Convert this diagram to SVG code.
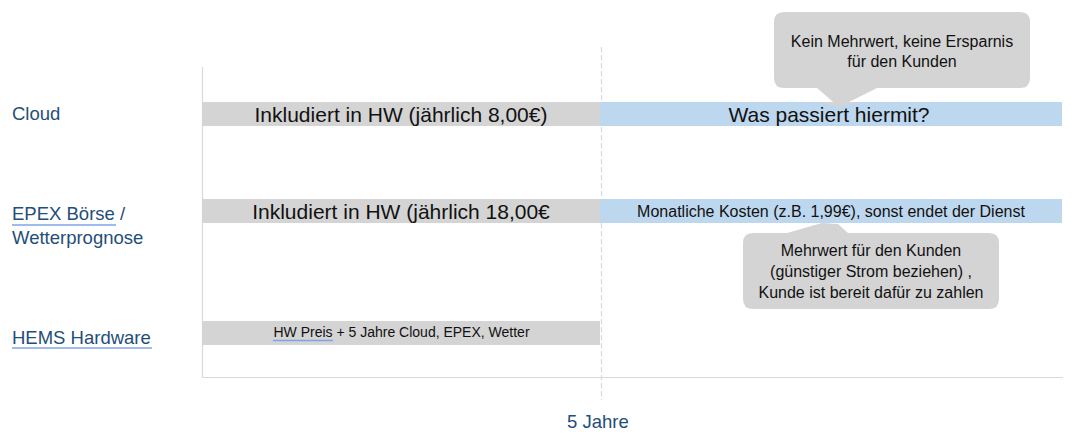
<svg xmlns="http://www.w3.org/2000/svg" width="1073" height="443" viewBox="0 0 1073 443">
<style>
.lbl{font-family:"Liberation Sans",Arial,sans-serif;font-size:18.5px;fill:#1F4E79}
.t{font-family:"Liberation Sans",Arial,sans-serif;fill:#111}
.c{text-anchor:middle}
.gray{fill:#D4D4D4}
.blue{fill:#BDD7EE}
.ax{stroke:#D9D9D9;stroke-width:1.2;fill:none}
.ul{stroke:#7FA3E6;stroke-width:1.5}
</style>
<rect width="1073" height="443" fill="#fff"/>
<g id="connectors">
<path class="ax" d="M202.5 67V377.5H1063"/>
<path class="ax" d="M601.5 47V400" stroke-dasharray="5,3"/>
</g>
<g id="label-cloud"><text class="lbl" x="12" y="120">Cloud</text></g>
<g id="label-epex">
<text class="lbl" x="12" y="220">EPEX Börse /</text>
<text class="lbl" x="12" y="244">Wetterprognose</text>
<line class="ul" x1="12" y1="225" x2="116" y2="225"/>
</g>
<g id="label-hems">
<text class="lbl" x="12" y="344">HEMS Hardware</text>
<line class="ul" x1="12" y1="348" x2="152" y2="348"/>
</g>
<g id="cloud-included">
<rect class="gray" x="202" y="102" width="398" height="24"/>
<text class="t c" x="401" y="122" font-size="21">Inkludiert in HW (jährlich 8,00€)</text>
</g>
<g id="callout-kein">
<path class="gray" d="M784 12H1020Q1030 12 1030 22V78Q1030 88 1020 88H877L839 107L817 88H784Q774 88 774 78V22Q774 12 784 12Z"/>
</g>
<g id="cloud-future">
<rect class="blue" x="600" y="102" width="462" height="24"/>
<path class="gray" d="M817 102H858L839 107Z"/>
<text class="t c" x="829" y="122" font-size="21">Was passiert hiermit?</text>
</g>
<g id="callout-kein-text">
<text class="t c" x="902" y="47" font-size="16">Kein Mehrwert, keine Ersparnis</text>
<text class="t c" x="902" y="67" font-size="16">für den Kunden</text>
</g>
<g id="epex-included">
<rect class="gray" x="202" y="199" width="398" height="24"/>
<text class="t c" x="401" y="219" font-size="21">Inkludiert in HW (jährlich 18,00€</text>
</g>
<g id="epex-future">
<rect class="blue" x="600" y="199" width="462" height="24"/>
<text class="t c" x="831" y="217" font-size="16">Monatliche Kosten (z.B. 1,99€), sonst endet der Dienst</text>
</g>
<g id="callout-mehrwert">
<path class="gray" d="M753 233H787L822 223L838 224L848 233H989Q999 233 999 243V299Q999 309 989 309H753Q743 309 743 299V243Q743 233 753 233Z"/>
<text class="t c" x="871" y="256" font-size="16">Mehrwert für den Kunden</text>
<text class="t c" x="871" y="277" font-size="16">(günstiger Strom beziehen) ,</text>
<text class="t c" x="871" y="298" font-size="16">Kunde ist bereit dafür zu zahlen</text>
</g>
<g id="hems-bar">
<rect class="gray" x="202" y="321" width="398" height="24"/>
<text class="t c" x="401.5" y="337" font-size="14">HW Preis + 5 Jahre Cloud, EPEX, Wetter</text>
<line class="ul" x1="273" y1="340.5" x2="333" y2="340.5"/>
</g>
<g id="axis-label"><text class="lbl" x="567" y="428">5 Jahre</text></g>
</svg>
